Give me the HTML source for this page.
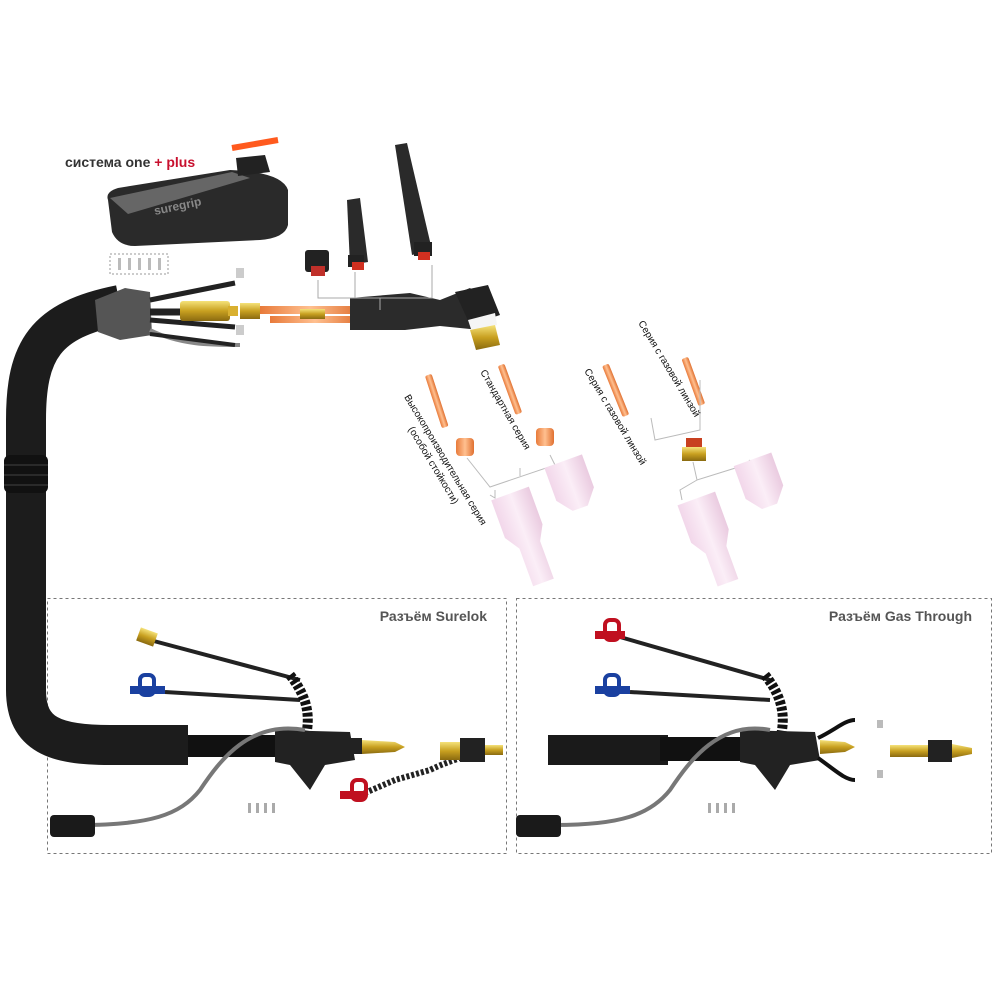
<!DOCTYPE html>
<html><head><meta charset="utf-8"><style>
html,body{margin:0;padding:0;background:#fff;width:1000px;height:1000px;overflow:hidden}
svg{display:block}
text{font-family:"Liberation Sans",sans-serif}
</style></head><body>
<svg width="1000" height="1000" viewBox="0 0 1000 1000">
<defs>
<linearGradient id="pk" x1="0" x2="1"><stop offset="0" stop-color="#f2d7ea"/><stop offset=".5" stop-color="#fbeef7"/><stop offset="1" stop-color="#eacbe0"/></linearGradient>
<linearGradient id="cu" x1="0" x2="1"><stop offset="0" stop-color="#e87a3a"/><stop offset=".5" stop-color="#ffc090"/><stop offset="1" stop-color="#e07030"/></linearGradient>
<linearGradient id="br" x1="0" x2="0" y1="0" y2="1"><stop offset="0" stop-color="#f5e27a"/><stop offset=".5" stop-color="#c8a020"/><stop offset="1" stop-color="#8a6a10"/></linearGradient>
</defs>

<rect x="47.5" y="598.5" width="459" height="255" fill="none" stroke="#777" stroke-dasharray="3,3"/>
<rect x="516.5" y="598.5" width="475" height="255" fill="none" stroke="#777" stroke-dasharray="3,3"/>
<text x="487" y="621" text-anchor="end" font-size="14" font-weight="bold" fill="#555">Разъём Surelok</text>
<text x="972" y="621" text-anchor="end" font-size="14" font-weight="bold" fill="#555">Разъём Gas Through</text>

<text x="65" y="167" font-size="14" font-weight="bold" fill="#333">система one <tspan fill="#c8102e">+ plus</tspan></text>

<path d="M120 305 C 45 320, 26 350, 26 420 L 26 690 C 26 735, 55 745, 110 745 L 188 745" fill="none" stroke="#1c1c1c" stroke-width="40"/>
<rect x="4" y="455" width="44" height="38" rx="6" fill="#111"/>
<line x1="4" y1="465" x2="48" y2="465" stroke="#444"/><line x1="4" y1="475" x2="48" y2="475" stroke="#444"/><line x1="4" y1="485" x2="48" y2="485" stroke="#444"/>
<path d="M95 300 L125 288 L150 292 L152 335 L120 340 L98 332 Z" fill="#555"/>
<path d="M150 300 L235 283" stroke="#222" stroke-width="5" fill="none"/>
<path d="M150 312 L220 312" stroke="#222" stroke-width="7" fill="none"/>
<path d="M150 320 L235 327" stroke="#222" stroke-width="5" fill="none"/>
<path d="M150 330 C 180 345, 210 345, 240 345" stroke="#888" stroke-width="4" fill="none"/>
<path d="M150 334 L235 345" stroke="#222" stroke-width="4" fill="none"/>
<rect x="180" y="301" width="50" height="20" rx="3" fill="url(#br)"/>
<rect x="228" y="306" width="10" height="10" fill="#d9b030"/>
<g fill="#bbb"><rect x="118" y="258" width="3" height="12"/><rect x="128" y="258" width="3" height="12"/><rect x="138" y="258" width="3" height="12"/><rect x="148" y="258" width="3" height="12"/><rect x="158" y="258" width="3" height="12"/></g>
<rect x="110" y="254" width="58" height="20" fill="none" stroke="#999" stroke-dasharray="2,2"/>
<rect x="236" y="268" width="8" height="10" fill="#ccc"/><rect x="236" y="325" width="8" height="10" fill="#ccc"/>

<path d="M108 200 Q 105 192 118 188 L230 170 Q 282 172 288 190 L288 225 Q 285 238 260 240 L135 246 Q 118 246 112 232 Z" fill="#2a2a2a"/>
<path d="M110 198 L232 172 L250 178 L128 214 Z" fill="#666"/>
<text x="155" y="215" font-size="12" font-weight="bold" fill="#888" transform="rotate(-12 155 215)">suregrip</text>
<path d="M236 158 L265 155 L270 172 L238 176 Z" fill="#222"/>
<path d="M232 148 L278 140" stroke="#ff5a1e" stroke-width="6"/>

<rect x="240" y="303" width="20" height="16" fill="url(#br)"/>
<rect x="260" y="306" width="100" height="8" fill="url(#cu)"/>
<rect x="270" y="316" width="90" height="7" fill="url(#cu)"/>
<rect x="300" y="309" width="25" height="10" fill="url(#br)"/>
<path d="M350 298 L410 293 L440 300 L470 288 L495 310 L480 330 L440 326 L405 330 L350 330 Z" fill="#2b2b2b"/>
<path d="M455 292 L488 285 L500 315 L470 325 Z" fill="#222"/>
<path d="M468 320 L495 313 L497 325 L472 332 Z" fill="#f5f5f5"/>
<path d="M470 330 L495 325 L500 345 L476 350 Z" fill="url(#br)"/>

<g stroke="#aaa" fill="none"><path d="M318 280 L318 298 L432 298 L432 265 M355 272 L355 298 M380 298 L380 310"/></g>
<rect x="305" y="250" width="24" height="22" rx="3" fill="#222"/><rect x="311" y="266" width="14" height="10" fill="#c0302a"/>
<path d="M347 200 L360 198 L368 262 L350 265 Z" fill="#2a2a2a"/><rect x="348" y="255" width="16" height="12" fill="#222"/><rect x="352" y="262" width="12" height="8" fill="#d03020"/>
<path d="M395 145 L407 143 L432 250 L412 255 Z" fill="#2a2a2a"/><rect x="414" y="242" width="18" height="14" fill="#222"/><rect x="418" y="252" width="12" height="8" fill="#d03020"/>

<g transform="rotate(-18 440 390)"><rect x="430" y="372" width="7" height="55" fill="url(#cu)" rx="2"/></g>
<g transform="rotate(-20 510 385)"><rect x="505" y="363" width="7" height="52" fill="url(#cu)" rx="2"/></g>
<g transform="rotate(-22 615 390)"><rect x="612" y="363" width="7" height="55" fill="url(#cu)" rx="2"/></g>
<g transform="rotate(-20 685 360)"><rect x="682" y="358" width="7" height="50" fill="url(#cu)" rx="2"/></g>
<rect x="456" y="438" width="18" height="18" rx="4" fill="url(#cu)"/>
<rect x="536" y="428" width="18" height="18" rx="4" fill="url(#cu)"/>
<rect x="686" y="438" width="16" height="10" fill="#c84020"/><rect x="682" y="447" width="24" height="14" fill="url(#br)"/>
<g stroke="#bbb" fill="none">
<path d="M467 458 L490 487 L555 465 L550 455 M520 476 L520 468 M495 490 L495 498 L490 495"/>
<path d="M651 418 L655 440 L700 430 L700 380 M693 462 L697 480 L745 465 L750 460 M697 480 L680 490 L682 500"/>
</g>
<g transform="rotate(-20 525 520)"><path d="M500 490 L540 490 L540 530 L532 545 L532 585 L510 585 L510 545 L500 530 Z" fill="url(#pk)"/></g>
<g transform="rotate(-20 570 480)"><path d="M550 460 L590 460 L590 495 L578 510 L562 510 L550 495 Z" fill="url(#pk)"/></g>
<g transform="rotate(-20 712 530)"><path d="M688 495 L728 495 L728 535 L720 550 L720 585 L698 585 L698 550 L688 535 Z" fill="url(#pk)"/></g>
<g transform="rotate(-20 760 480)"><path d="M740 458 L780 458 L780 493 L768 508 L752 508 L740 493 Z" fill="url(#pk)"/></g>

<g font-size="10" fill="#111">
<text transform="translate(404,397) rotate(59)">Высокопроизводительная серия</text>
<text transform="translate(408,429) rotate(59)">(особой стойкости)</text>
<text transform="translate(480,372) rotate(60)">Стандартная серия</text>
<text transform="translate(584,371) rotate(59)">Серия с газовой линзой</text>
<text transform="translate(638,323) rotate(59)">Серия с газовой линзой</text>
</g>

<path d="M150 640 L300 680" stroke="#222" stroke-width="4"/>
<rect x="138" y="630" width="18" height="14" fill="url(#br)" transform="rotate(20 147 637)"/>
<path d="M165 692 L300 700" stroke="#222" stroke-width="4"/>
<path d="M130 690 L165 690" stroke="#1a40a0" stroke-width="8"/><rect x="140" y="675" width="14" height="20" rx="5" fill="none" stroke="#1a40a0" stroke-width="4"/>
<path d="M290 675 C 310 700, 310 720, 305 740" stroke="#111" stroke-width="10" fill="none" stroke-dasharray="4,2"/>
<rect x="188" y="735" width="90" height="22" fill="#111"/>
<path d="M275 730 L350 732 L355 760 L325 765 L310 790 L290 765 L275 762 Z" fill="#222"/>
<rect x="350" y="738" width="12" height="16" fill="#222"/>
<path d="M362 740 L395 742 L405 747 L395 752 L362 754 Z" fill="url(#br)"/>
<path d="M305 730 C 250 720, 220 760, 200 790 C 180 815, 150 825, 80 825" stroke="#777" stroke-width="4" fill="none"/>
<rect x="50" y="815" width="45" height="22" rx="4" fill="#1a1a1a"/>
<path d="M360 795 L395 780 L430 770 C 450 760, 460 760, 470 752" stroke="#222" stroke-width="6" fill="none" stroke-dasharray="3,2"/>
<path d="M340 795 L365 795" stroke="#c01020" stroke-width="8"/><rect x="352" y="780" width="14" height="20" rx="5" fill="none" stroke="#c01020" stroke-width="4"/>
<rect x="440" y="742" width="20" height="18" fill="url(#br)"/><rect x="460" y="738" width="25" height="24" fill="#222"/><rect x="485" y="745" width="18" height="10" fill="url(#br)"/>
<g fill="#aaa"><rect x="248" y="803" width="3" height="10"/><rect x="256" y="803" width="3" height="10"/><rect x="264" y="803" width="3" height="10"/><rect x="272" y="803" width="3" height="10"/></g>

<rect x="548" y="735" width="120" height="30" fill="#1a1a1a"/>
<path d="M620 637 L770 680" stroke="#222" stroke-width="4"/>
<path d="M595 635 L625 635" stroke="#c01020" stroke-width="8"/><rect x="605" y="620" width="14" height="20" rx="5" fill="none" stroke="#c01020" stroke-width="4"/>
<path d="M630 692 L770 700" stroke="#222" stroke-width="4"/>
<path d="M595 690 L630 690" stroke="#1a40a0" stroke-width="8"/><rect x="605" y="675" width="14" height="20" rx="5" fill="none" stroke="#1a40a0" stroke-width="4"/>
<path d="M765 675 C 785 700, 785 720, 780 740" stroke="#111" stroke-width="10" fill="none" stroke-dasharray="4,2"/>
<rect x="660" y="737" width="85" height="24" fill="#111"/>
<path d="M740 730 L815 732 L820 760 L790 765 L775 790 L755 765 L740 762 Z" fill="#222"/>
<path d="M820 740 L845 742 L855 747 L845 752 L820 754 Z" fill="url(#br)"/>
<path d="M818 738 C 835 730, 845 720, 855 720 M818 758 C 835 770, 845 780, 855 780" stroke="#111" stroke-width="4" fill="none"/>
<path d="M770 730 C 720 720, 690 760, 670 790 C 650 815, 620 825, 555 825" stroke="#777" stroke-width="4" fill="none"/>
<rect x="516" y="815" width="45" height="22" rx="4" fill="#1a1a1a"/>
<rect x="890" y="745" width="40" height="12" fill="url(#br)"/><rect x="928" y="740" width="24" height="22" fill="#222"/><path d="M952 744 L972 748 L972 754 L952 758 Z" fill="url(#br)"/>
<rect x="877" y="720" width="6" height="8" fill="#bbb"/><rect x="877" y="770" width="6" height="8" fill="#bbb"/>
<g fill="#aaa"><rect x="708" y="803" width="3" height="10"/><rect x="716" y="803" width="3" height="10"/><rect x="724" y="803" width="3" height="10"/><rect x="732" y="803" width="3" height="10"/></g>
</svg>
</body></html>
